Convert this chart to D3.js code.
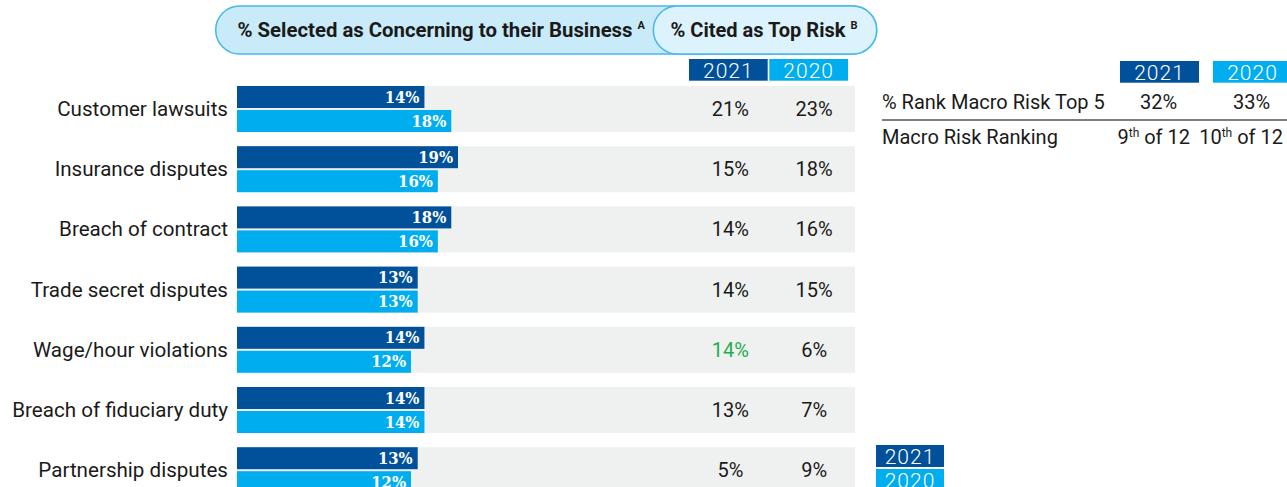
<!DOCTYPE html>
<html>
<head>
<meta charset="utf-8">
<script src="https://cdn.jsdelivr.net/npm/d3@7"></script>
<style>
  html, body { margin: 0; padding: 0; background: #ffffff; }
  svg { display: block; }
</style>
</head>
<body>
<svg id="chart" width="1287" height="487"></svg>
<script>
// ---------- DATA ----------
const categories = [
  "Customer lawsuits",
  "Insurance disputes",
  "Breach of contract",
  "Trade secret disputes",
  "Wage/hour violations",
  "Breach of fiduciary duty",
  "Partnership disputes"
];
const years = ["2021", "2020"];
const concerning2021 = [14, 19, 18, 13, 14, 14, 13];
const concerning2020 = [18, 16, 16, 13, 12, 14, 12];
const topRisk2021 = [21, 15, 14, 14, 14, 13, 5];
const topRisk2020 = [23, 18, 16, 15, 6, 7, 9];
const topRiskHighlight2021 = [false, false, false, false, true, false, false];
const headerConcerning = "% Selected as Concerning to their Business";
const headerConcerningNote = "A";
const headerTopRisk = "% Cited as Top Risk";
const headerTopRiskNote = "B";
const macroLabels = ["% Rank Macro Risk Top 5", "Macro Risk Ranking"];
const macroTop5 = [32, 33];
const macroRank = [9, 10];
const macroRankSuffix = ["th", "th"];
const macroRankOf = 12;

// ---------- STYLE ----------
const C = {
  dark: "#00519a",
  light: "#00aeef",
  bg: "#eff1f0",
  text: "#1a1a1a",
  green: "#1fae4f",
  pillOuter: "#c8eaf9",
  pillInner: "#dcf2fc",
  pillStroke: "#45b8ea",
  rule: "#555555"
};
const sans = "Roboto, 'Open Sans', sans-serif";
const slab = "'DejaVu Serif Condensed', 'DejaVu Serif', serif";

const svg = d3.select("#chart");
const seriesOf = { "2021": concerning2021, "2020": concerning2020 };
const topOf = { "2021": topRisk2021, "2020": topRisk2020 };

// ---------- SCALES ----------
const plotLeft = 237, plotRight = 855;
const y = d3.scaleBand().domain(categories).range([86, 86 + 7 * 60.2 - 14.2])
  .paddingInner(14.2 / 60.2).paddingOuter(0);
const yInner = d3.scaleBand().domain(years).range([0, y.bandwidth()])
  .paddingInner(2 / 24).paddingOuter(0);
const x = d3.scaleLinear().domain([12, 19]).range([plotLeft + 174, plotLeft + 221]);
const col = d3.scaleBand().domain(years).range([689, 848]).paddingInner(0.02).paddingOuter(0);

// ---------- HEADER PILLS ----------
const hdr = svg.append("g");
hdr.append("rect").attr("x", 215.7).attr("y", 6).attr("width", 876.7 - 215.7).attr("height", 48)
  .attr("rx", 24).attr("fill", C.pillOuter).attr("stroke", C.pillStroke).attr("stroke-width", 1.5);
hdr.append("rect").attr("x", 653.3).attr("y", 6).attr("width", 876.7 - 653.3).attr("height", 48)
  .attr("rx", 24).attr("fill", C.pillInner).attr("stroke", C.pillStroke).attr("stroke-width", 1.5);

function titleText(xPos, label, note, len) {
  const t = hdr.append("text").attr("x", xPos).attr("y", 37)
    .attr("font-family", sans).attr("font-weight", 700).attr("font-size", 20)
    .attr("fill", C.text);
  t.append("tspan").text(label).attr("textLength", len).attr("lengthAdjust", "spacingAndGlyphs");
  t.append("tspan").text(note).attr("font-size", 11).attr("dx", 5).attr("dy", -8);
}
titleText(237.5, headerConcerning, headerConcerningNote, 395);
titleText(670.5, headerTopRisk, headerTopRiskNote, 175);

// ---------- COLUMN HEADERS (top risk) ----------
const colHdr = svg.append("g");
colHdr.selectAll("rect").data(years).join("rect")
  .attr("x", d => col(d)).attr("y", 59).attr("width", col.bandwidth()).attr("height", 21.7)
  .attr("fill", (d, i) => i === 0 ? C.dark : C.light);
colHdr.selectAll("text").data(years).join("text")
  .attr("x", d => col(d) + col.bandwidth() / 2).attr("y", 77.5)
  .attr("text-anchor", "middle").attr("font-family", sans).attr("font-weight", 300)
  .attr("font-size", 21).attr("letter-spacing", 1).attr("fill", "#ffffff").text(d => d);

// ---------- ROWS ----------
const rows = svg.append("g").selectAll("g").data(categories).join("g")
  .attr("transform", d => `translate(0,${y(d)})`);

rows.append("rect").attr("x", plotLeft).attr("y", 0)
  .attr("width", plotRight - plotLeft).attr("height", y.bandwidth()).attr("fill", C.bg);

rows.append("text").attr("x", 228).attr("y", y.bandwidth() / 2 + 7)
  .attr("text-anchor", "end").attr("font-family", sans).attr("font-size", 20.6)
  .attr("fill", C.text).text(d => d);

years.forEach((yr, yi) => {
  rows.append("rect").attr("x", plotLeft).attr("y", yInner(yr))
    .attr("width", (d, i) => x(seriesOf[yr][i]) - plotLeft).attr("height", yInner.bandwidth())
    .attr("fill", yi === 0 ? C.dark : C.light);
  rows.append("text").attr("x", (d, i) => x(seriesOf[yr][i]) - 5)
    .attr("y", yInner(yr) + 16.7).attr("text-anchor", "end")
    .attr("font-family", slab).attr("font-stretch", "condensed").attr("font-weight", 700)
    .attr("font-size", 16.5).attr("fill", "#ffffff").text((d, i) => seriesOf[yr][i] + "%");
  rows.append("text").attr("x", col(yr) + col.bandwidth() / 2 + (yi === 0 ? 2 : 5.5))
    .attr("y", y.bandwidth() / 2 + 7).attr("text-anchor", "middle")
    .attr("font-family", sans).attr("font-size", 20)
    .attr("fill", (d, i) => (yi === 0 && topRiskHighlight2021[i]) ? C.green : C.text)
    .text((d, i) => topOf[yr][i] + "%");
});

// ---------- MACRO RISK TABLE ----------
const mcol = d3.scaleBand().domain(years).range([1120, 1292]).paddingInner(0.15).paddingOuter(0);
const mt = svg.append("g");
mt.selectAll("rect").data(years).join("rect")
  .attr("x", d => mcol(d)).attr("y", 61).attr("width", mcol.bandwidth()).attr("height", 21.7)
  .attr("fill", (d, i) => i === 0 ? C.dark : C.light);
mt.selectAll("text.hdr").data(years).join("text").attr("class", "hdr")
  .attr("x", d => mcol(d) + mcol.bandwidth() / 2).attr("y", 79.5)
  .attr("text-anchor", "middle").attr("font-family", sans).attr("font-weight", 300)
  .attr("font-size", 21).attr("letter-spacing", 1).attr("fill", "#ffffff").text(d => d);

const rowY = [109, 144];
mt.selectAll("text.lbl").data(macroLabels).join("text").attr("class", "lbl")
  .attr("x", 882).attr("y", (d, i) => rowY[i]).attr("font-family", sans)
  .attr("font-size", 20).attr("fill", C.text).text(d => d);
mt.append("line").attr("x1", 882).attr("x2", 1287).attr("y1", 120).attr("y2", 120)
  .attr("stroke", C.rule).attr("stroke-width", 1.5);

mt.selectAll("text.top5").data(years).join("text").attr("class", "top5")
  .attr("x", d => mcol(d) + mcol.bandwidth() / 2 - 1).attr("y", rowY[0])
  .attr("text-anchor", "middle").attr("font-family", sans).attr("font-size", 20)
  .attr("fill", C.text).text((d, i) => macroTop5[i] + "%");

const rk = mt.selectAll("text.rank").data(years).join("text").attr("class", "rank")
  .attr("x", d => mcol(d) + mcol.bandwidth() - 9).attr("y", rowY[1])
  .attr("text-anchor", "end").attr("font-family", sans).attr("font-size", 20)
  .attr("fill", C.text);
rk.append("tspan").text((d, i) => macroRank[i]);
rk.append("tspan").attr("font-size", 12).attr("dy", -7).text((d, i) => macroRankSuffix[i]);
rk.append("tspan").attr("dy", 7).text(" of " + macroRankOf);

// ---------- LEGEND ----------
const leg = svg.append("g").selectAll("g").data(years).join("g")
  .attr("transform", (d, i) => `translate(876,${445 + i * 24})`);
leg.append("rect").attr("width", 68).attr("height", 22)
  .attr("fill", (d, i) => i === 0 ? C.dark : C.light);
leg.append("text").attr("x", 34).attr("y", 18.5).attr("text-anchor", "middle")
  .attr("font-family", sans).attr("font-weight", 300).attr("font-size", 21)
  .attr("letter-spacing", 1).attr("fill", "#ffffff").text(d => d);
</script>
</body>
</html>
